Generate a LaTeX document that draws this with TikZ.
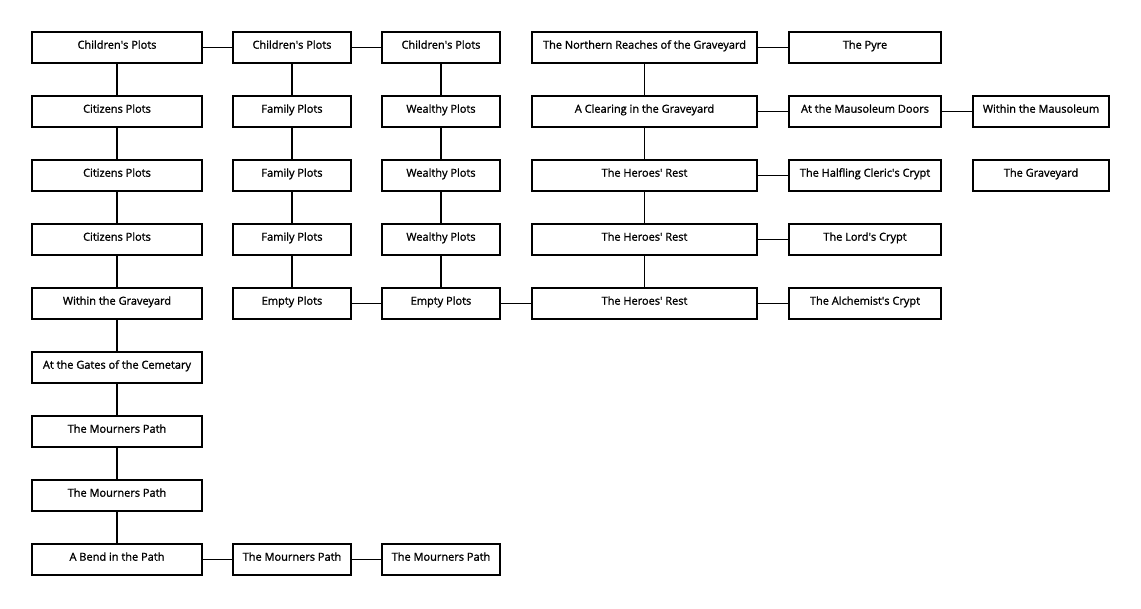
\documentclass[tikz,border=0pt]{standalone}
\usepackage{fontspec}
\setmainfont{Open Sans}
\newfontfamily\boxfont{Open Sans}[FakeBold=1.3]
\newcommand{\ap}{\textquotesingle}
\begin{document}
\begin{tikzpicture}[x=1pt,y=-1pt,
  box/.style={draw, line width=1.8pt, rectangle, minimum height=31.5pt, inner sep=0pt, text height=8pt, text depth=5.6pt, font=\boxfont\fontsize{11}{13}\selectfont},
  wa/.style={box, minimum width=170pt},
  wb/.style={box, minimum width=118pt},
  wd/.style={box, minimum width=225pt},
  we/.style={box, minimum width=152pt},
  wf/.style={box, minimum width=136pt},
  link/.style={line width=1.8pt}]
\useasboundingbox (0,0) rectangle (1141,608);
% column A
\node[wa] (a1) at (117,47.5) {Children\ap s Plots};
\node[wa] (a2) at (117,111.5) {Citizens Plots};
\node[wa] (a3) at (117,175.5) {Citizens Plots};
\node[wa] (a4) at (117,239.5) {Citizens Plots};
\node[wa] (a5) at (117,303.5) {Within the Graveyard};
\node[wa] (a6) at (117,367.5) {At the Gates of the Cemetary};
\node[wa] (a7) at (117,431.5) {The Mourners Path};
\node[wa] (a8) at (117,495.5) {The Mourners Path};
\node[wa] (a9) at (117,559.5) {A Bend in the Path};
% column B
\node[wb] (b1) at (292,47.5) {Children\ap s Plots};
\node[wb] (b2) at (292,111.5) {Family Plots};
\node[wb] (b3) at (292,175.5) {Family Plots};
\node[wb] (b4) at (292,239.5) {Family Plots};
\node[wb] (b5) at (292,303.5) {Empty Plots};
\node[wb] (b9) at (292,559.5) {The Mourners Path};
% column C
\node[wb] (c1) at (441,47.5) {Children\ap s Plots};
\node[wb] (c2) at (441,111.5) {Wealthy Plots};
\node[wb] (c3) at (441,175.5) {Wealthy Plots};
\node[wb] (c4) at (441,239.5) {Wealthy Plots};
\node[wb] (c5) at (441,303.5) {Empty Plots};
\node[wb] (c9) at (441,559.5) {The Mourners Path};
% column D
\node[wd] (d1) at (644.5,47.5) {The Northern Reaches of the Graveyard};
\node[wd] (d2) at (644.5,111.5) {A Clearing in the Graveyard};
\node[wd] (d3) at (644.5,175.5) {The Heroes\ap{} Rest};
\node[wd] (d4) at (644.5,239.5) {The Heroes\ap{} Rest};
\node[wd] (d5) at (644.5,303.5) {The Heroes\ap{} Rest};
% column E
\node[we] (e1) at (865,47.5) {The Pyre};
\node[we] (e2) at (865,111.5) {At the Mausoleum Doors};
\node[we] (e3) at (865,175.5) {The Halfling Cleric\ap s Crypt};
\node[we] (e4) at (865,239.5) {The Lord\ap s Crypt};
\node[we] (e5) at (865,303.5) {The Alchemist\ap s Crypt};
% column F
\node[wf] (f2) at (1041,111.5) {Within the Mausoleum};
\node[wf] (f3) at (1041,175.5) {The Graveyard};
% connectors
\draw[link] (a1) -- (a2) (a2) -- (a3) (a3) -- (a4) (a4) -- (a5) (a5) -- (a6) (a6) -- (a7) (a7) -- (a8) (a8) -- (a9);
\draw[link] (a1) -- (b1) (b1) -- (c1);
\draw[link] (b1) -- (b2) (b2) -- (b3) (b3) -- (b4) (b4) -- (b5);
\draw[link] (c1) -- (c2) (c2) -- (c3) (c3) -- (c4) (c4) -- (c5);
\draw[link] (b5) -- (c5) (c5) -- (d5);
\draw[link] (a9) -- (b9) (b9) -- (c9);
\draw[link] (d1) -- (d2) (d2) -- (d3) (d3) -- (d4) (d4) -- (d5);
\draw[link] (d1) -- (e1) (d2) -- (e2) (e2) -- (f2) (d3) -- (e3) (d4) -- (e4) (d5) -- (e5);
\end{tikzpicture}
\end{document}
